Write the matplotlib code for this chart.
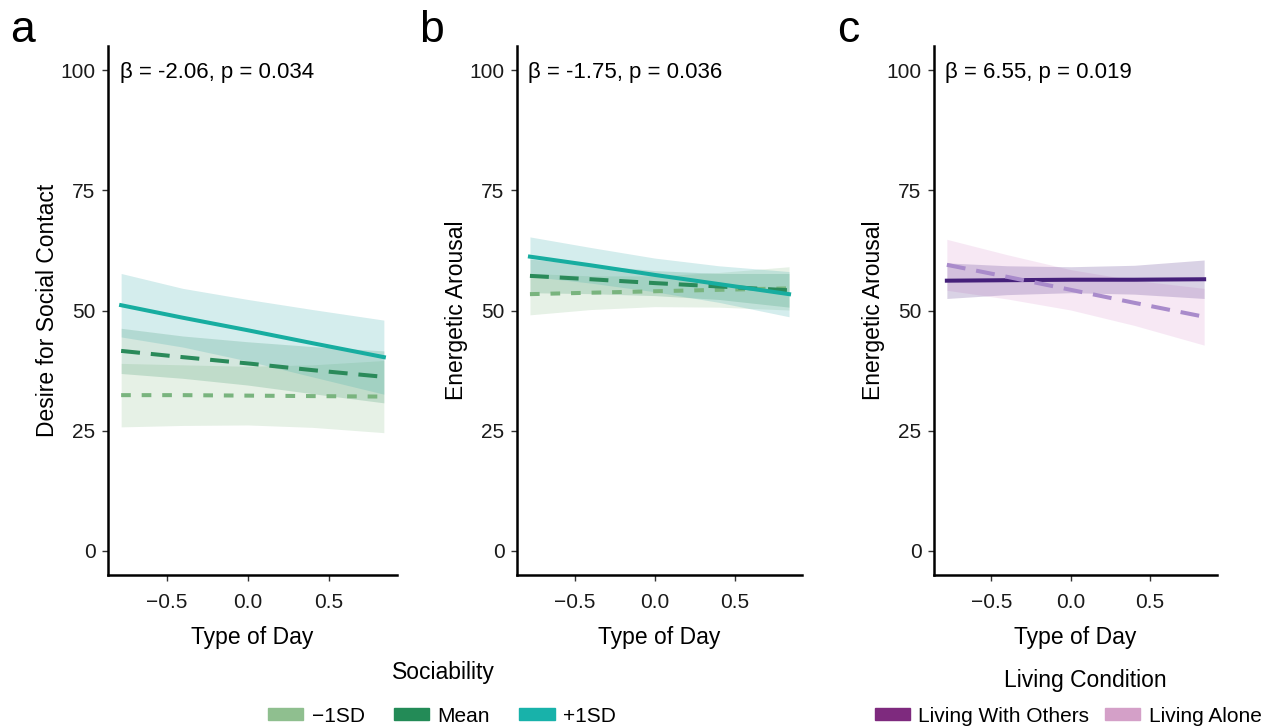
import os
import matplotlib
matplotlib.use("Agg")
import matplotlib.pyplot as plt
import matplotlib.font_manager as fm
from matplotlib.patches import Patch


def font_file(stem):
    for f in fm.fontManager.ttflist:
        if os.path.basename(f.fname).startswith(stem):
            return f.fname
    return None


# a condensed face if there is one, Arial-like otherwise
narrow_path = font_file("LiberationSansNarrow-Regular")
regular_path = font_file("LiberationSans-Regular")


def fp(size, path):
    if path:
        return fm.FontProperties(fname=path, size=size)
    return fm.FontProperties(family=["Liberation Sans", "DejaVu Sans"], size=size)


# type of day at which the fitted values were read
x_day = [-0.78, -0.4, 0.0, 0.4, 0.84]

# panel a: desire for social contact, by sociability
a_plus_fit = [51.1, 48.5, 45.9, 43.2, 40.3]
a_plus_lo = [44.5, 42.4, 39.5, 36.2, 32.6]
a_plus_hi = [57.7, 54.6, 52.3, 50.2, 48.0]
a_mean_fit = [41.6, 40.3, 39.0, 37.6, 36.2]
a_mean_lo = [36.9, 35.9, 34.5, 32.7, 30.8]
a_mean_hi = [46.3, 44.7, 43.5, 42.5, 41.6]
a_minus_fit = [32.4, 32.4, 32.3, 32.2, 32.1]
a_minus_lo = [25.8, 26.1, 26.2, 25.7, 24.6]
a_minus_hi = [39.0, 38.7, 38.4, 38.7, 39.6]

# panel b: energetic arousal, by sociability
b_plus_fit = [61.2, 59.4, 57.4, 55.5, 53.4]
b_plus_lo = [57.1, 55.7, 53.9, 51.7, 48.7]
b_plus_hi = [65.3, 63.1, 60.9, 59.3, 58.1]
b_mean_fit = [57.2, 56.5, 55.7, 55.0, 54.2]
b_mean_lo = [53.7, 53.5, 53.1, 52.3, 50.7]
b_mean_hi = [60.7, 59.5, 58.3, 57.7, 57.7]
b_minus_fit = [53.4, 53.7, 54.0, 54.3, 54.6]
b_minus_lo = [49.1, 50.2, 50.8, 50.7, 50.1]
b_minus_hi = [57.7, 57.2, 57.2, 57.9, 59.1]

# panel c: energetic arousal, by living condition
c_others_fit = [56.2, 56.3, 56.4, 56.4, 56.5]
c_others_lo = [52.5, 53.3, 53.7, 53.4, 52.5]
c_others_hi = [59.9, 59.3, 59.1, 59.4, 60.5]
c_alone_fit = [59.5, 57.0, 54.3, 51.6, 48.7]
c_alone_lo = [54.2, 52.4, 50.1, 46.9, 42.8]
c_alone_hi = [64.8, 61.6, 58.5, 56.3, 54.6]

stats = ["β = -2.06, p = 0.034", "β = -1.75, p = 0.036", "β = 6.55, p = 0.019"]
letters = ["a", "b", "c"]
ylabels = ["Desire for Social Contact", "Energetic Arousal", "Energetic Arousal"]

y_ticks = [0, 25, 50, 75, 100]
x_ticks = [-0.5, 0.0, 0.5]
x_ticklabels = ["\u22120.5", "0.0", "0.5"]

soc_labels = ["\u22121SD", "Mean", "+1SD"]
soc_legend_cols = ["#8fbf8f", "#238b57", "#18b2aa"]
liv_labels = ["Living With Others", "Living Alone"]
liv_legend_cols = ["#7e2a7e", "#d4a0c8"]

W, H = 1263, 728
fig = plt.figure(figsize=(W / 100, H / 100), dpi=100)

boxes = [(108, 289), (517, 285), (934, 283)]
top_px, bot_px = 46, 575
axes = []
for left, width in boxes:
    ax = fig.add_axes([left / W, 1 - bot_px / H, width / W, (bot_px - top_px) / H])
    axes.append(ax)

lw = 2.9
dash_mean = (0, (4.7, 2.7))
dash_minus = (0, (2.4, 2.7))

# sociability panels
for ax, d in zip(axes[:2], [
        (a_minus_fit, a_minus_lo, a_minus_hi, a_mean_fit, a_mean_lo, a_mean_hi,
         a_plus_fit, a_plus_lo, a_plus_hi),
        (b_minus_fit, b_minus_lo, b_minus_hi, b_mean_fit, b_mean_lo, b_mean_hi,
         b_plus_fit, b_plus_lo, b_plus_hi)]):
    mi_f, mi_l, mi_h, me_f, me_l, me_h, pl_f, pl_l, pl_h = d
    ax.fill_between(x_day, mi_l, mi_h, color="#9cc89c", alpha=0.25, lw=0)
    ax.fill_between(x_day, me_l, me_h, color="#2a8a5a", alpha=0.2, lw=0)
    ax.fill_between(x_day, pl_l, pl_h, color="#2ca5a5", alpha=0.2, lw=0)
    ax.plot(x_day, mi_f, color="#79b47e", lw=lw, linestyle=dash_minus)
    ax.plot(x_day, me_f, color="#2a8a5a", lw=lw, linestyle=dash_mean)
    ax.plot(x_day, pl_f, color="#17ada0", lw=lw)

# living condition panel
ax = axes[2]
ax.fill_between(x_day, c_alone_lo, c_alone_hi, color="#d890cc", alpha=0.2, lw=0)
ax.fill_between(x_day, c_others_lo, c_others_hi, color="#6b4c9a", alpha=0.25, lw=0)
ax.plot(x_day, c_others_fit, color="#45207a", lw=lw)
ax.plot(x_day, c_alone_fit, color="#a98bcb", lw=lw, linestyle=dash_mean)

tick_fp = fp(15, narrow_path)
label_fp = fp(16.5, narrow_path)
for i, ax in enumerate(axes):
    ax.set_xlim(-0.861, 0.921)
    ax.set_ylim(-5, 105)
    ax.set_xticks(x_ticks)
    ax.set_xticklabels(x_ticklabels, fontproperties=tick_fp)
    ax.set_yticks(y_ticks)
    ax.set_yticklabels([str(v) for v in y_ticks], fontproperties=tick_fp)
    ax.tick_params(length=4, width=1, color="#333333", labelcolor="#1a1a1a")
    ax.tick_params(axis="x", pad=9)
    ax.tick_params(axis="y", pad=5)
    for s in ["top", "right"]:
        ax.spines[s].set_visible(False)
    for s in ["left", "bottom"]:
        ax.spines[s].set_linewidth(1.8)
        ax.spines[s].set_color("black")
    ax.set_xlabel("Type of Day", fontproperties=label_fp)
    ax.xaxis.set_label_coords(0.5, -51 / (bot_px - top_px))
    ax.set_ylabel(ylabels[i], fontproperties=label_fp)
    ax.yaxis.set_label_coords(-49 / boxes[i][1], 0.5)
    ax.text(-0.79, 100, stats[i], fontproperties=fp(16, regular_path),
            ha="left", va="center_baseline")
    x0 = boxes[i][0]
    fig.text((x0 - 86) / W, 1 - 30 / H, letters[i], fontproperties=fp(32, narrow_path),
             ha="center", va="center")

# legends
fig.text(443 / W, 1 - 673 / H, "Sociability", fontproperties=fp(16.5, narrow_path),
         ha="center", va="center")
leg_fp = fp(15, narrow_path)
h1 = [Patch(color=c) for c in soc_legend_cols]
fig.legend(h1, soc_labels, loc="center", bbox_to_anchor=(442 / W, 1 - 716 / H),
           ncol=3, frameon=False, prop=leg_fp, handlelength=1.7, handleheight=0.5,
           handletextpad=0.4, columnspacing=1.4, borderpad=0)

fig.text(1085 / W, 1 - 680 / H, "Living Condition", fontproperties=fp(16.5, narrow_path),
         ha="center", va="center")
h2 = [Patch(color=c) for c in liv_legend_cols]
fig.legend(h2, liv_labels, loc="center", bbox_to_anchor=(1068 / W, 1 - 716 / H),
           ncol=2, frameon=False, prop=leg_fp, handlelength=1.7, handleheight=0.5,
           handletextpad=0.4, columnspacing=0.75, borderpad=0)

fig.savefig("out.png", dpi=100)
